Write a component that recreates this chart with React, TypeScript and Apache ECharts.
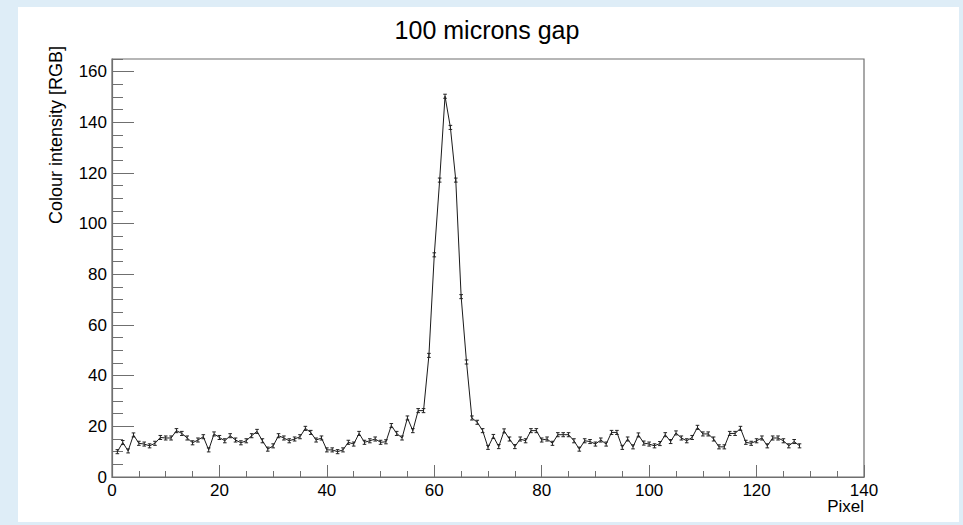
import React, { useEffect, useRef } from "react";
import * as echarts from "echarts";

const TITLE = "100 microns gap";
const X_NAME = "Pixel";
const Y_NAME = "Colour intensity [RGB]";
const X_MIN = 0;
const X_MAX = 140;
const X_STEP = 20;
const Y_MIN = 0;
const Y_MAX = 165;
const Y_STEP = 20;
const Y_MINOR_STEP = 5;
const FIRST_PIXEL = 1;
const ERROR = 0.8;

// colour intensity per pixel (pixels 1..128)
const INTENSITY = [
  10, 13.6, 10.3, 16.6, 13.3, 13, 12.3, 13.3, 15.6, 15.4,
  15.4, 18.3, 17.2, 15.4, 13.5, 14.6, 15.9, 10.7, 17, 15.6,
  14.3, 16.3, 14.6, 13.5, 14.3, 16.3, 18, 14.3, 11, 12.3,
  16.3, 15.4, 14.3, 15, 15.9, 19.2, 17.6, 14.6, 15.4, 10.7,
  10.7, 10, 10.7, 13.7, 13, 17.2, 13.7, 14.3, 15, 13.7,
  13.9, 20.3, 17.2, 15.4, 23.3, 18.3, 26.2, 26.2, 48, 87.7,
  117.2, 150.3, 138, 117.2, 71.2, 45.4, 23.3, 21.6, 18.3, 11.7,
  16, 12, 18.2, 15, 12, 15, 14.3, 18.3, 18.3, 14.6,
  15, 13.3, 16.7, 16.7, 16.7, 14.3, 11, 14.3, 14, 13,
  14.6, 13, 17.6, 17.6, 11.7, 15, 11.9, 16.6, 13.4, 13,
  12.3, 13.2, 16.7, 14, 17.4, 15.4, 14.3, 15.6, 19.6, 17,
  17, 15, 11.9, 11.9, 17.2, 17.2, 19.2, 13.7, 13.3, 14.3,
  15.4, 12.3, 15.4, 15.4, 14.3, 12.3, 14, 12.3,
];

const FONT = "'Liberation Sans', Arial, Helvetica, sans-serif";
const AXIS_COLOR = "#6f6f6f";

export default function App() {
  const ref = useRef<HTMLDivElement>(null);

  useEffect(() => {
    const chart = echarts.init(ref.current as HTMLDivElement, null, { renderer: "svg" });
    const points = INTENSITY.map((v, i) => [FIRST_PIXEL + i, v]);

    chart.setOption({
      animation: false,
      backgroundColor: "#deedf7",
      grid: {
        show: true,
        left: 112,
        top: 59,
        width: 752,
        height: 418,
        borderColor: AXIS_COLOR,
        borderWidth: 1.2,
        backgroundColor: "transparent",
      },
      graphic: [
        {
          type: "rect",
          z: -100,
          silent: true,
          shape: { x: 18, y: 7, width: 941, height: 515 },
          style: { fill: "#ffffff" },
        },
        {
          type: "text",
          x: 487,
          y: 30,
          style: {
            text: TITLE,
            fill: "#000",
            font: `25px ${FONT}`,
            textAlign: "center",
            textVerticalAlign: "middle",
            align: "center",
            verticalAlign: "middle",
          },
        },
        {
          type: "text",
          x: 56,
          y: 46,
          rotation: Math.PI / 2,
          style: {
            text: Y_NAME,
            fill: "#000",
            font: `18px ${FONT}`,
            textAlign: "right",
            textVerticalAlign: "middle",
            align: "right",
            verticalAlign: "middle",
          },
        },
        {
          type: "text",
          x: 864,
          y: 506,
          style: {
            text: X_NAME,
            fill: "#000",
            font: `17px ${FONT}`,
            textAlign: "right",
            textVerticalAlign: "middle",
            align: "right",
            verticalAlign: "middle",
          },
        },
      ],
      xAxis: {
        type: "value",
        min: X_MIN,
        max: X_MAX,
        interval: X_STEP,
        axisLine: { show: true, lineStyle: { color: AXIS_COLOR, width: 1.2 } },
        axisTick: { show: true, inside: true, length: 12, lineStyle: { color: AXIS_COLOR } },
        minorTick: { show: true, splitNumber: 4, length: 6, lineStyle: { color: AXIS_COLOR } },
        splitLine: { show: false },
        axisLabel: { color: "#000", fontSize: 17, fontFamily: FONT, margin: 5 },
      },
      yAxis: [
        {
          type: "value",
          position: "left",
          min: Y_MIN,
          max: Y_MAX,
          interval: Y_STEP,
          axisLine: { show: true, lineStyle: { color: AXIS_COLOR, width: 1.2 } },
          axisTick: { show: true, inside: true, length: 22, lineStyle: { color: AXIS_COLOR } },
          splitLine: { show: false },
          axisLabel: {
            color: "#000",
            fontSize: 17,
            fontFamily: FONT,
            margin: 5,
            showMaxLabel: false,
            formatter: (v: number) => (v % Y_STEP === 0 ? String(v) : ""),
          },
        },
        {
          type: "value",
          position: "left",
          min: Y_MIN,
          max: Y_MAX,
          interval: Y_MINOR_STEP,
          axisLine: { show: false },
          axisTick: { show: true, inside: true, length: 11, lineStyle: { color: AXIS_COLOR } },
          splitLine: { show: false },
          axisLabel: { show: false },
        },
      ],
      series: [
        {
          type: "line",
          data: points,
          yAxisIndex: 0,
          symbol: "none",
          lineStyle: { color: "#1a1a1a", width: 1 },
          z: 3,
        },
        {
          type: "custom",
          data: points,
          yAxisIndex: 0,
          encode: { x: 0, y: 1 },
          z: 4,
          renderItem: (_params: any, api: any) => {
            const x = api.value(0);
            const y = api.value(1);
            const lo = api.coord([x, y - ERROR]);
            const hi = api.coord([x, y + ERROR]);
            const c = 1.8;
            const style = { stroke: "#222", lineWidth: 1 };
            return {
              type: "group",
              children: [
                { type: "line", shape: { x1: lo[0], y1: lo[1], x2: hi[0], y2: hi[1] }, style },
                { type: "line", shape: { x1: lo[0] - c, y1: lo[1], x2: lo[0] + c, y2: lo[1] }, style },
                { type: "line", shape: { x1: hi[0] - c, y1: hi[1], x2: hi[0] + c, y2: hi[1] }, style },
              ],
            };
          },
        },
      ],
    });

    return () => chart.dispose();
  }, []);

  return (
    <div
      ref={ref}
      style={{ position: "absolute", left: 0, top: 0, width: 963, height: 525 }}
    />
  );
}
